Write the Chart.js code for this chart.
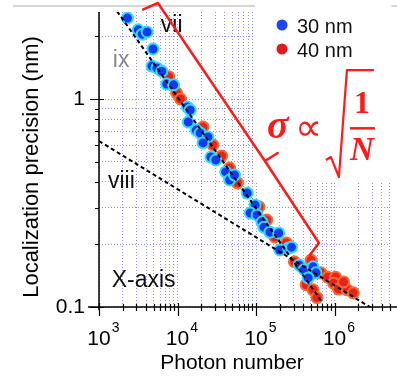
<!DOCTYPE html>
<html>
<head>
<meta charset="utf-8">
<script src="https://cdn.jsdelivr.net/npm/chart.js@4.4.0/dist/chart.umd.min.js"></script>
<style>
  html, body { margin: 0; padding: 0; background: #fff; }
</style>
</head>
<body>
<canvas id="chart" width="397" height="378"></canvas>
<script>
// values: photon number N vs localization precision (nm)
const photons30 = [2300, 3160, 3550, 4100, 4870, 4730, 5460, 6310, 7290, 8910, 13300, 14500, 13700, 17300, 19400, 24400, 21100, 26600, 30700, 41000, 46000, 53100, 77200, 97200, 84100, 103000, 119000, 126000, 150000, 194000, 200000, 259000, 282000, 355000, 410000, 531000, 579000, 460000];
const sigma30 = [2.45, 2.15, 2.05, 2.10, 1.74, 1.44, 1.41, 1.36, 1.18, 1.17, 0.915, 0.885, 0.775, 0.709, 0.686, 0.657, 0.615, 0.526, 0.509, 0.446, 0.408, 0.431, 0.353, 0.309, 0.283, 0.277, 0.256, 0.242, 0.229, 0.227, 0.188, 0.192, 0.194, 0.159, 0.151, 0.156, 0.146, 0.138];

const photons40 = [7720, 9720, 10900, 21100, 28200, 36500, 46000, 57900, 109000, 137000, 173000, 244000, 307000, 460000, 434000, 531000, 596000, 501000, 668000, 818000, 1030000, 972000, 1120000, 1450000, 1730000, 1300000];
const sigma40 = [1.28, 1.07, 1.0, 0.733, 0.601, 0.532, 0.466, 0.395, 0.303, 0.262, 0.217, 0.203, 0.165, 0.143, 0.128, 0.121, 0.111, 0.168, 0.146, 0.139, 0.139, 0.130, 0.122, 0.121, 0.117, 0.132];

// dashed guide lines (end points)
const steepN = [1700, 700000];
const steepSigma = [2.64, 0.105];
const shallowN = [1000, 5000000];
const shallowSigma = [0.628, 0.0875];

// axes
const xMin = 1000, xMax = 5e6;
const yMin = 0.1, yMax = 2.62;
const xTicks = [1e3, 2e3, 3e3, 4e3, 5e3, 6e3, 7e3, 8e3, 9e3, 1e4, 2e4, 3e4, 4e4, 5e4, 6e4, 7e4, 8e4, 9e4, 1e5, 2e5, 3e5, 4e5, 5e5, 6e5, 7e5, 8e5, 9e5, 1e6, 2e6, 3e6, 4e6, 5e6];
const yTicks = [0.1, 0.2, 0.3, 0.4, 0.5, 0.6, 0.7, 0.8, 0.9, 1, 2];
const yLabelled = [0.1, 1];

// annotation (red brace) in data coordinates
const braceN = [3548, 5623, 129600, 188400, 129600, 631000, 473200];
const braceSigma = [2.68, 2.894, 0.5033, 0.5499, 0.5033, 0.2031, 0.1758];

const sans = "'Liberation Sans', Arial, sans-serif";
const serif = "'Liberation Serif', 'Times New Roman', serif";
const red = '#ff1a1a';

const labels = [
    { text: 'vii', n: 6130, s: 2.10, color: '#111' },
    { text: 'ix', n: 1500, s: 1.425, color: '#8a8a8a' },
    { text: 'viii', n: 1300, s: 0.373, color: '#111' },
    { text: 'X-axis', n: 1450, s: 0.125, color: '#111' }
];

const isDecade = v => Math.abs(Math.log10(v) - Math.round(Math.log10(v))) < 1e-9;

const decor = {
    id: 'decor',
    beforeDraw(chart) {
        const ctx = chart.ctx;
        ctx.save();
        ctx.strokeStyle = '#c8c8c8';
        ctx.lineWidth = 1.5;
        ctx.beginPath();
        ctx.moveTo(13, 6); ctx.lineTo(397, 6);
        ctx.stroke();
        ctx.restore();
    },
    beforeDatasetsDraw(chart) {
        // white panel behind the formula and legend
        const { ctx, scales: { x, y }, chartArea } = chart;
        const x0 = x.getPixelForValue(97000), y1 = y.getPixelForValue(0.395);
        ctx.save();
        ctx.fillStyle = '#fff';
        ctx.fillRect(x0, 0, chartArea.right - x0 + 2, y1);
        ctx.restore();
    },
    afterDatasetsDraw(chart) {
        const { ctx, scales: { x, y }, chartArea: a } = chart;
        const px = (n, s) => [x.getPixelForValue(n), y.getPixelForValue(s)];
        ctx.save();

        // axis lines
        ctx.strokeStyle = '#000';
        ctx.lineWidth = 1.5;
        ctx.beginPath();
        ctx.moveTo(a.left, a.top); ctx.lineTo(a.left, a.bottom + 3);
        ctx.moveTo(a.left - 11, a.bottom); ctx.lineTo(397, a.bottom);
        ctx.stroke();

        // tick marks
        ctx.lineWidth = 1.2;
        ctx.beginPath();
        yTicks.forEach(v => {
            const yy = Math.round(y.getPixelForValue(v)) + 0.5;
            if (isDecade(v)) { ctx.moveTo(a.left - 9, yy); ctx.lineTo(a.left + 5, yy); }
            else { ctx.moveTo(a.left - 4, yy); ctx.lineTo(a.left, yy); }
        });
        xTicks.forEach(v => {
            const xx = Math.round(x.getPixelForValue(v)) + 0.5;
            if (isDecade(v)) { ctx.moveTo(xx, a.bottom - 4); ctx.lineTo(xx, a.bottom + 9); }
            else { ctx.moveTo(xx, a.bottom - 3); ctx.lineTo(xx, a.bottom + 4); }
        });
        ctx.stroke();

        // x tick labels 10^n
        ctx.fillStyle = '#000';
        ctx.textBaseline = 'alphabetic';
        xTicks.filter(isDecade).forEach(v => {
            const xx = x.getPixelForValue(v);
            if (xx > a.right + 1) return;
            ctx.font = `21px ${sans}`;
            ctx.textAlign = 'center';
            ctx.fillText('10', xx, 345);
            const w = ctx.measureText('10').width;
            ctx.font = `14px ${sans}`;
            ctx.textAlign = 'left';
            ctx.fillText(String(Math.round(Math.log10(v))), xx + w / 2 + 1, 332);
        });

        // axis titles
        ctx.font = `21px ${sans}`;
        ctx.textAlign = 'center';
        ctx.fillText('Photon number', 232, 369);
        ctx.save();
        ctx.translate(38, 167);
        ctx.rotate(-Math.PI / 2);
        ctx.font = `22px ${sans}`;
        ctx.fillText('Localization precision (nm)', 0, 0);
        ctx.restore();

        // text labels
        ctx.font = `23px ${sans}`;
        ctx.textAlign = 'left';
        labels.forEach(l => {
            const [lx, ly] = px(l.n, l.s);
            ctx.fillStyle = l.color;
            ctx.fillText(l.text, lx, ly);
        });

        // legend
        const series = chart.data.datasets.filter(d => d.label.endsWith('nm'));
        ctx.font = `20px ${sans}`;
        series.forEach((d, i) => {
            const cy = 25 + i * 24;
            ctx.fillStyle = d.legendColor;
            ctx.beginPath();
            ctx.arc(282, cy, 5.5, 0, Math.PI * 2);
            ctx.fill();
            ctx.fillStyle = '#111';
            ctx.fillText(d.label, 297, cy + 8);
        });

        // red brace
        ctx.strokeStyle = red;
        ctx.lineWidth = 2.5;
        ctx.lineJoin = 'round';
        ctx.beginPath();
        braceN.forEach((n, i) => {
            const [bx, by] = px(n, braceSigma[i]);
            if (i === 0) ctx.moveTo(bx, by); else ctx.lineTo(bx, by);
        });
        ctx.stroke();

        // formula  sigma ∝ sqrt(1/N)
        const [fx, fy] = px(129600, 0.649);
        ctx.fillStyle = red;
        ctx.textAlign = 'left';
        ctx.font = `bold italic 40px ${serif}`;
        ctx.fillText('σ', fx + 2, fy);
        ctx.font = `38px 'DejaVu Sans', sans-serif`;
        ctx.fillText('∝', fx + 30, fy + 2);
        ctx.lineWidth = 2.2;
        ctx.beginPath();
        ctx.moveTo(fx + 61, fy + 22);
        ctx.lineTo(fx + 66, fy + 19);
        ctx.lineTo(fx + 74, fy + 39);
        ctx.lineTo(fx + 82, fy - 68);
        ctx.lineTo(fx + 109, fy - 68);
        ctx.stroke();
        ctx.textAlign = 'center';
        ctx.font = `bold 32px ${serif}`;
        ctx.fillText('1', fx + 97, fy - 25);
        ctx.fillRect(fx + 85, fy - 11, 25, 2.5);
        ctx.font = `bold italic 33px ${serif}`;
        ctx.fillText('N', fx + 97, fy + 22);

        ctx.restore();
    }
};

const toPoints = (xs, ys) => xs.map((n, i) => ({ x: n, y: ys[i] }));

new Chart(document.getElementById('chart'), {
    type: 'scatter',
    data: {
        datasets: [
            { label: 'fit steep', data: toPoints(steepN, steepSigma), showLine: true, borderColor: '#000', borderWidth: 2, borderDash: [4, 3], pointRadius: 0 },
            { label: 'fit shallow', data: toPoints(shallowN, shallowSigma), showLine: true, borderColor: '#000', borderWidth: 2, borderDash: [4, 3], pointRadius: 0 },
            { label: '30 nm', data: toPoints(photons30, sigma30), backgroundColor: '#1538f2', borderColor: '#30dcff', borderWidth: 2, pointRadius: 5.5, legendColor: '#1a44ff' },
            { label: '40 nm', data: toPoints(photons40, sigma40), backgroundColor: '#e8231b', borderColor: '#f86a30', borderWidth: 2, pointRadius: 5.5, legendColor: '#e3191c' }
        ]
    },
    options: {
        responsive: false,
        animation: false,
        events: [],
        layout: { padding: { top: 12, right: 2, left: 0, bottom: 0 } },
        plugins: { legend: { display: false }, tooltip: { enabled: false } },
        scales: {
            x: {
                type: 'logarithmic',
                min: xMin, max: xMax,
                afterBuildTicks: s => { s.ticks = xTicks.map(v => ({ value: v })); },
                afterFit: s => { s.height = 71; s.paddingLeft = 0; s.paddingRight = 0; },
                ticks: { display: false },
                grid: { color: '#9090ff', lineWidth: 1, drawTicks: false },
                border: { display: false, dash: [1, 2] }
            },
            y: {
                type: 'logarithmic',
                min: yMin, max: yMax,
                afterBuildTicks: s => { s.ticks = yTicks.map(v => ({ value: v })); },
                afterFit: s => { s.width = 99; s.paddingTop = 0; s.paddingBottom = 0; },
                ticks: {
                    autoSkip: false,
                    padding: 14,
                    color: '#000',
                    font: { family: sans, size: 21 },
                    callback: v => yLabelled.includes(v) ? String(v) : ''
                },
                grid: { color: '#9090ff', lineWidth: 1, drawTicks: false },
                border: { display: false, dash: [1, 2] }
            }
        }
    },
    plugins: [decor]
});
</script>
</body>
</html>
